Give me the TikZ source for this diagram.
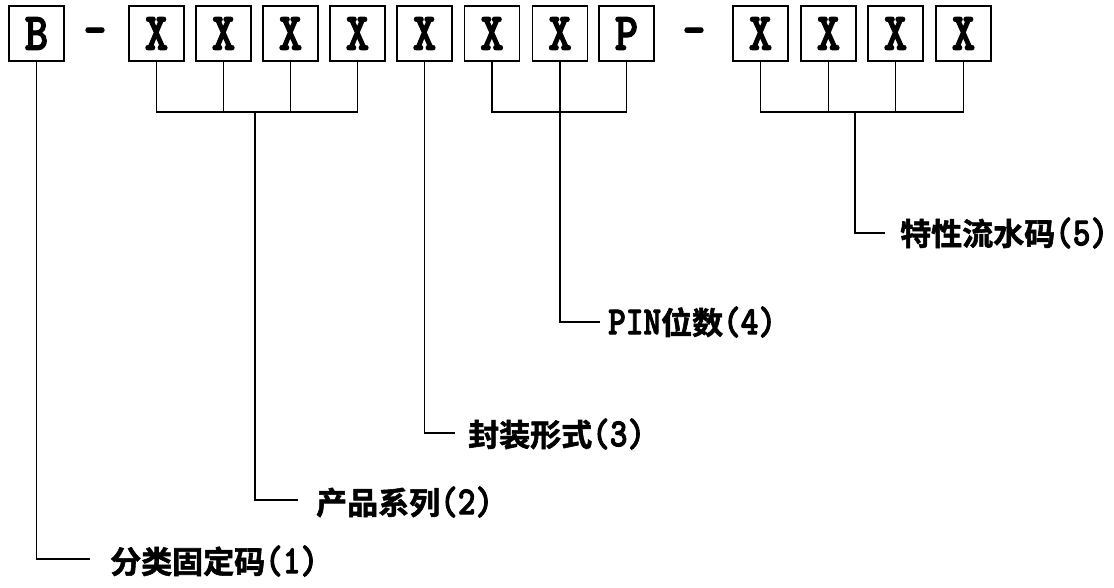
\documentclass[tikz,border=0pt]{standalone}
\usepackage{fontspec}
\newfontfamily\cjkf{Noto Sans CJK SC}[UprightFont={* Bold}, FakeBold=1.8]
\newfontfamily\latn{lmmonolt10-bold}[Extension=.otf, FakeStretch=0.84, FakeBold=2.2]
\newcommand\latxt[1]{{\latn\fontsize{40}{40}\selectfont #1}}
\begin{document}
\begin{tikzpicture}[x=1pt,y=-1pt,
  codebox/.style={draw, line width=1.4pt, minimum width=55pt, minimum height=55pt, inner sep=0pt,
    font=\latn\fontsize{53}{53}\selectfont},
  dashtxt/.style={anchor=base, inner sep=0pt, font=\latn\fontsize{52}{52}\selectfont},
  conn/.style={line width=1.3pt},
  lbl/.style={anchor=west, inner sep=0pt, font=\fontsize{31}{31}\selectfont}]
\useasboundingbox (0,0) rectangle (1114,587);
% boxes
\node[codebox] (B)   at (36.5,33.5) {B};
\node[dashtxt] (d1)  at (95,46) {—};
\node[codebox] (X1)  at (156.5,33.5) {X};
\node[codebox] (X2)  at (223.5,33.5) {X};
\node[codebox] (X3)  at (290.5,33.5) {X};
\node[codebox] (X4)  at (357.5,33.5) {X};
\node[codebox] (X5)  at (424.5,33.5) {X};
\node[codebox] (X6)  at (492,33.5) {X};
\node[codebox] (X7)  at (560,33.5) {X};
\node[codebox] (P8)  at (626.5,33.5) {P};
\node[dashtxt] (d2)  at (694,46) {—};
\node[codebox] (X9)  at (760.5,33.5) {X};
\node[codebox] (X10) at (828.5,33.5) {X};
\node[codebox] (X11) at (895.5,33.5) {X};
\node[codebox] (X12) at (963.5,33.5) {X};
% bracket level and label line ends
\coordinate (br) at (0,112);
\coordinate (s2) at (255,112);
\coordinate (s5) at (855,112);
\coordinate (e1) at (90,559);
\coordinate (e2) at (298,500);
\coordinate (e3) at (455,433);
\coordinate (e4) at (600,322);
\coordinate (e5) at (885,233);
% labels
\node[lbl] (L1) at (110,561) {{\cjkf 分类固定码}\latxt{(1)}};
\node[lbl] (L2) at (316,502) {{\cjkf 产品系列}\latxt{(2)}};
\node[lbl] (L3) at (468,434) {{\cjkf 封装形式}\latxt{(3)}};
\node[lbl] (L4) at (608,322) {\latxt{PIN}{\cjkf 位数}\latxt{(4)}};
\node[lbl] (L5) at (900,233) {{\cjkf 特性流水码}\latxt{(5)}};
% group 1
\draw[conn] (B.south) |- (e1);
% group 2
\draw[conn] (X1.south) |- (X4.south |- br) -- (X4.south);
\draw[conn] (X2.south) -- (X2.south |- br);
\draw[conn] (X3.south) -- (X3.south |- br);
\draw[conn] (s2) |- (e2);
% group 3
\draw[conn] (X5.south) |- (e3);
% group 4
\draw[conn] (X6.south) |- (P8.south |- br) -- (P8.south);
\draw[conn] (X7.south) |- (e4);
% group 5
\draw[conn] (X9.south) |- (X12.south |- br) -- (X12.south);
\draw[conn] (X10.south) -- (X10.south |- br);
\draw[conn] (X11.south) -- (X11.south |- br);
\draw[conn] (s5) |- (e5);
\end{tikzpicture}
\end{document}
